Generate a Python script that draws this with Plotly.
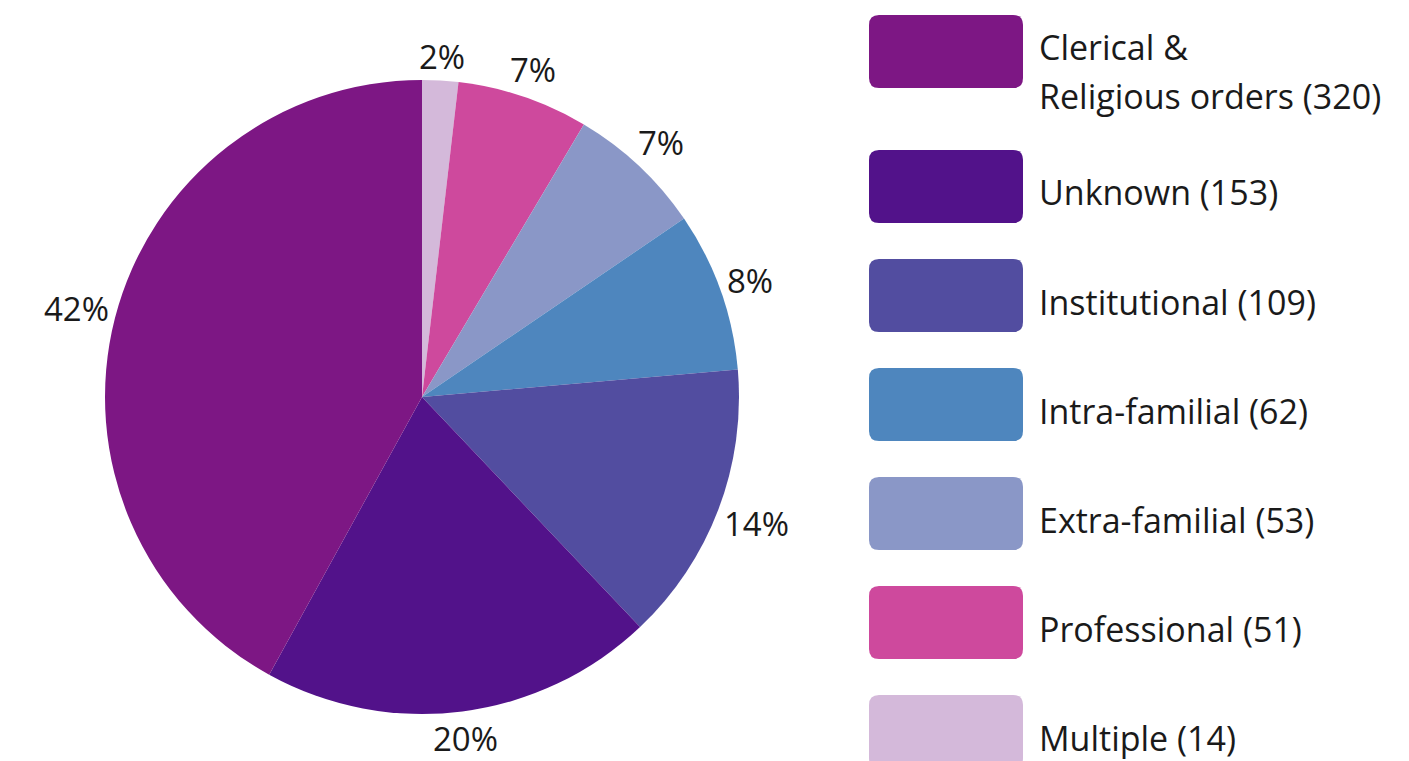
import math
import plotly.graph_objects as go

# ---- data ----
categories = ["Clerical & Religious orders", "Unknown", "Institutional",
              "Intra-familial", "Extra-familial", "Professional", "Multiple"]
legend_lines = [["Clerical &", "Religious orders (320)"], ["Unknown (153)"],
                ["Institutional (109)"], ["Intra-familial (62)"],
                ["Extra-familial (53)"], ["Professional (51)"], ["Multiple (14)"]]
values = [320, 153, 109, 62, 53, 51, 14]
colors = ["#7D1784", "#52128A", "#524DA0", "#4E86BE", "#8A97C7", "#CE499D", "#D4B9DA"]

W, H = 1409, 761
FONT = "Open Sans"

# pie geometry (pixels)
CX, CY, R = 422, 397, 317

# slices run counter-clockwise from 12 o'clock in the reference:
# draw clockwise with the order reversed (same geometry)
fig = go.Figure()
fig.add_trace(go.Pie(
    labels=categories[::-1], values=values[::-1], sort=False,
    direction="clockwise", rotation=0,
    marker=dict(colors=colors[::-1], line=dict(width=0)),
    textinfo="none", hoverinfo="label+value+percent",
    showlegend=False,
    domain=dict(x=[(CX - R) / W, (CX + R) / W], y=[1 - (CY + R) / H, 1 - (CY - R) / H]),
))


def px_x(v):
    return v / W


def px_y(v):
    return 1 - v / H


annotations = []

# ---- percentage labels outside each slice, at the slice mid-angle ----
total = sum(values)
FS = 33
cum = 0.0
for v in values:
    mid = (cum + v / 2) / total * 2 * math.pi  # counter-clockwise from top
    cum += v
    dx = -math.sin(mid)
    dy = -math.cos(mid)  # screen y (down positive)
    txt = f"{round(100 * v / total)}%"
    w = len(txt) * 0.62 * FS
    h = 0.75 * FS * 1.4
    d = 6 + abs(dx) * w / 2 + abs(dy) * h / 2
    x = CX + dx * (R + d)
    y = CY + dy * (R + d)
    annotations.append(dict(x=px_x(x), y=px_y(y), xref="paper", yref="paper",
                            xanchor="center", yanchor="middle", showarrow=False,
                            text=txt, font=dict(family=FONT, size=FS, color="#1a1a1a")))

# ---- custom legend (rounded swatches + labels) ----
box_left, box_right, box_h, rad = 869, 1023, 73, 10
row_tops = [15] + [150 + 109 * i for i in range(len(values) - 1)]
shapes = []
for i, (c, lines) in enumerate(zip(colors, legend_lines)):
    t = row_tops[i]
    b = t + box_h
    x0, x1 = box_left, box_right
    pts = [
        f"M {px_x(x0 + rad)},{px_y(t)}",
        f"L {px_x(x1 - rad)},{px_y(t)}",
        f"Q {px_x(x1)},{px_y(t)} {px_x(x1)},{px_y(t + rad)}",
        f"L {px_x(x1)},{px_y(b - rad)}",
        f"Q {px_x(x1)},{px_y(b)} {px_x(x1 - rad)},{px_y(b)}",
        f"L {px_x(x0 + rad)},{px_y(b)}",
        f"Q {px_x(x0)},{px_y(b)} {px_x(x0)},{px_y(b - rad)}",
        f"L {px_x(x0)},{px_y(t + rad)}",
        f"Q {px_x(x0)},{px_y(t)} {px_x(x0 + rad)},{px_y(t)}",
        "Z",
    ]
    shapes.append(dict(type="path", xref="paper", yref="paper", path=" ".join(pts),
                       fillcolor=c, line=dict(width=0), layer="above"))
    if len(lines) == 1:
        ys = [t + box_h / 2 + 6]
    else:
        ys = [t + 32, t + 81]
    for line, yc in zip(lines, ys):
        annotations.append(dict(x=px_x(1038), y=px_y(yc), xref="paper", yref="paper",
                                xanchor="left", yanchor="middle", showarrow=False,
                                borderpad=0,
                                text=line, font=dict(family=FONT, size=34, color="#1a1a1a")))

fig.update_layout(
    width=W, height=H,
    margin=dict(l=0, r=0, t=0, b=0),
    paper_bgcolor="white", plot_bgcolor="white",
    shapes=shapes, annotations=annotations,
)

fig.write_html("out.html", config={"displayModeBar": False},
               post_script="document.body.style.margin='0';")
